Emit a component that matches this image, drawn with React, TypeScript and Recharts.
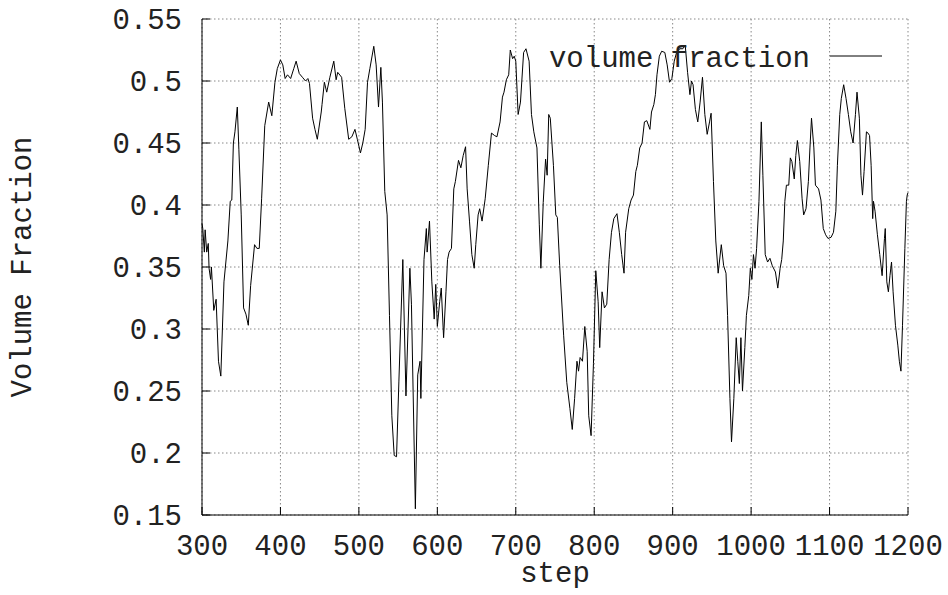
import { CartesianGrid, Legend, Line, LineChart, XAxis, YAxis } from 'recharts';

const steps = [
  300, 301, 303, 304, 306, 308, 309, 311, 312, 315, 318, 321, 324, 328, 333, 336, 338, 340, 342, 345,
  347, 350, 353, 356, 359, 362, 367, 370, 373, 376, 380, 385, 389, 393, 396, 400, 403, 406, 409, 413,
  417, 420, 424, 428, 432, 435, 437, 441, 444, 447, 452, 453, 456, 459, 463, 468, 471, 473, 478, 482,
  487, 491, 495, 498, 502, 505, 508, 511, 514, 519, 522, 525, 528, 530, 533, 536, 539, 542, 545, 548,
  551, 556, 560, 565, 567, 572, 575, 578, 579, 583, 586, 587, 590, 593, 596, 598, 600, 603, 605, 608,
  611, 613, 615, 618, 621, 623, 627, 630, 633, 636, 638, 641, 644, 647, 649, 652, 654, 657, 661, 665,
  669, 673, 676, 680, 683, 685, 688, 691, 693, 696, 698, 700, 703, 706, 710, 713, 717, 720, 723, 727,
  730, 732, 735, 738, 740, 742, 744, 748, 751, 753, 756, 761, 765, 769, 772, 775, 778, 780, 782, 785,
  788, 791, 793, 796, 799, 802, 805, 807, 810, 813, 816, 819, 822, 825, 829, 832, 835, 838, 840, 844,
  847, 850, 853, 855, 858, 861, 864, 867, 871, 873, 876, 878, 880, 883, 886, 890, 893, 896, 899, 902,
  905, 909, 913, 916, 919, 922, 924, 926, 929, 932, 935, 938, 941, 944, 947, 949, 952, 955, 958, 962,
  965, 968, 970, 973, 975, 978, 981, 983, 985, 987, 989, 992, 994, 997, 999, 1001, 1003, 1005, 1007, 1010,
  1013, 1015, 1018, 1021, 1024, 1027, 1031, 1034, 1037, 1039, 1041, 1043, 1045, 1048, 1050, 1052, 1055, 1057, 1059, 1062,
  1065, 1067, 1070, 1073, 1075, 1077, 1080, 1082, 1086, 1089, 1092, 1095, 1098, 1102, 1105, 1108, 1110, 1113, 1115, 1118,
  1121, 1124, 1127, 1130, 1133, 1135, 1138, 1140, 1142, 1144, 1147, 1149, 1151, 1153, 1155, 1156, 1158, 1161, 1164, 1167,
  1170, 1171, 1173, 1175, 1177, 1179, 1181, 1184, 1187, 1189, 1191, 1193, 1196, 1198, 1199, 1200,
];

const volumeFraction = [
  0.385, 0.381, 0.362, 0.38, 0.362, 0.369, 0.349, 0.34, 0.35, 0.315, 0.324, 0.274, 0.262, 0.338, 0.371, 0.403, 0.404, 0.45, 0.459, 0.479,
  0.445, 0.392, 0.317, 0.312, 0.303, 0.335, 0.368, 0.365, 0.365, 0.405, 0.464, 0.483, 0.472, 0.499, 0.51, 0.517, 0.513, 0.502, 0.505, 0.502,
  0.51, 0.516, 0.506, 0.503, 0.5, 0.502, 0.498, 0.47, 0.461, 0.453, 0.475, 0.481, 0.499, 0.491, 0.503, 0.516, 0.501, 0.507, 0.503, 0.478,
  0.453, 0.455, 0.461, 0.453, 0.442, 0.45, 0.461, 0.499, 0.51, 0.528, 0.513, 0.479, 0.511, 0.483, 0.411, 0.392, 0.311, 0.23, 0.198, 0.197,
  0.258, 0.356, 0.246, 0.349, 0.32, 0.155, 0.263, 0.274, 0.244, 0.356, 0.381, 0.362, 0.387, 0.338, 0.308, 0.336, 0.302, 0.322, 0.333, 0.293,
  0.33, 0.356, 0.362, 0.365, 0.413, 0.419, 0.436, 0.43, 0.44, 0.447, 0.413, 0.387, 0.36, 0.349, 0.368, 0.392, 0.397, 0.387, 0.405, 0.432,
  0.458, 0.456, 0.455, 0.467, 0.487, 0.491, 0.501, 0.505, 0.525, 0.518, 0.52, 0.516, 0.473, 0.483, 0.523, 0.526, 0.516, 0.473, 0.459, 0.446,
  0.384, 0.349, 0.402, 0.437, 0.424, 0.473, 0.47, 0.432, 0.392, 0.39, 0.351, 0.295, 0.257, 0.236, 0.219, 0.244, 0.274, 0.266, 0.277, 0.274,
  0.302, 0.282, 0.23, 0.214, 0.272, 0.347, 0.322, 0.285, 0.33, 0.317, 0.32, 0.356, 0.378, 0.389, 0.393, 0.378, 0.36, 0.345, 0.378, 0.397,
  0.404, 0.408, 0.427, 0.432, 0.446, 0.45, 0.467, 0.468, 0.461, 0.475, 0.481, 0.489, 0.505, 0.52, 0.524, 0.523, 0.513, 0.499, 0.502, 0.516,
  0.523, 0.526, 0.526, 0.529, 0.507, 0.489, 0.5, 0.497, 0.477, 0.467, 0.483, 0.503, 0.473, 0.457, 0.467, 0.474, 0.419, 0.371, 0.345, 0.368,
  0.351, 0.345, 0.311, 0.244, 0.209, 0.244, 0.293, 0.274, 0.256, 0.293, 0.25, 0.285, 0.311, 0.327, 0.349, 0.34, 0.36, 0.349, 0.365, 0.403,
  0.467, 0.424, 0.36, 0.354, 0.357, 0.351, 0.346, 0.333, 0.349, 0.356, 0.371, 0.403, 0.416, 0.416, 0.438, 0.435, 0.421, 0.44, 0.452, 0.435,
  0.405, 0.392, 0.397, 0.419, 0.446, 0.47, 0.446, 0.416, 0.413, 0.404, 0.381, 0.376, 0.373, 0.374, 0.378, 0.395, 0.432, 0.473, 0.486, 0.497,
  0.486, 0.473, 0.459, 0.45, 0.473, 0.491, 0.47, 0.424, 0.408, 0.427, 0.459, 0.458, 0.456, 0.432, 0.389, 0.403, 0.395, 0.376, 0.36, 0.343,
  0.373, 0.381, 0.338, 0.33, 0.343, 0.354, 0.33, 0.303, 0.287, 0.274, 0.266, 0.303, 0.365, 0.403, 0.408, 0.41,
];

const xTicks = [300, 400, 500, 600, 700, 800, 900, 1000, 1100, 1200];
const yTicks = [0.15, 0.2, 0.25, 0.3, 0.35, 0.4, 0.45, 0.5, 0.55];
const yTickLabels = ['0.15', '0.2', '0.25', '0.3', '0.35', '0.4', '0.45', '0.5', '0.55'];

const data = steps.map((step, i) => ({ step, vf: volumeFraction[i] }));

const FONT = '"Liberation Mono", "DejaVu Sans Mono", monospace';
const TEXT = '#222';
const tickStyle = { fill: TEXT, fontSize: 29, fontFamily: FONT };

const renderLegend = () => (
  <svg width={360} height={40}>
    <text x={270} y={27} textAnchor="end" fill={TEXT} fontSize={29} fontFamily={FONT}>
      volume fraction
    </text>
    <line x1={290} x2={342} y1={16} y2={16} stroke="#000" strokeWidth={1} />
  </svg>
);

export default function App() {
  return (
    <div style={{ position: 'absolute', left: 0, top: 0, background: '#fff' }}>
      <LineChart width={948} height={595} data={data} margin={{ top: 19, right: 40, bottom: 0, left: 0 }}>
        <CartesianGrid stroke="#888" strokeDasharray="1.5 2.5" />
        <XAxis
          dataKey="step"
          type="number"
          domain={[300, 1200]}
          ticks={xTicks}
          height={80}
          tickSize={-8}
          tickMargin={27}
          tick={tickStyle}
          stroke="#000"
          tickLine={{ stroke: '#000' }}
          label={{ value: 'step', position: 'insideBottom', offset: 13, fill: TEXT, fontSize: 29, fontFamily: FONT }}
        />
        <XAxis
          xAxisId="top"
          orientation="top"
          type="number"
          domain={[300, 1200]}
          ticks={xTicks}
          height={0}
          tickSize={-8}
          tick={false}
          stroke="#000"
          tickLine={{ stroke: '#000' }}
        />
        <YAxis
          type="number"
          domain={[0.15, 0.55]}
          ticks={yTicks}
          width={202}
          tickSize={-8}
          tickMargin={28}
          tick={tickStyle}
          tickFormatter={(v: number) => yTickLabels[yTicks.indexOf(v)] ?? String(v)}
          stroke="#000"
          tickLine={{ stroke: '#000' }}
          label={{
            value: 'Volume Fraction',
            angle: -90,
            position: 'insideLeft',
            dx: 16,
            fill: TEXT,
            fontSize: 29,
            fontFamily: FONT,
            style: { textAnchor: 'middle' },
          }}
        />
        <YAxis
          yAxisId="right"
          orientation="right"
          type="number"
          domain={[0.15, 0.55]}
          ticks={yTicks}
          width={0}
          tickSize={-8}
          tick={false}
          stroke="#000"
          tickLine={{ stroke: '#000' }}
        />
        <Legend
          layout="horizontal"
          verticalAlign="middle"
          align="center"
          content={renderLegend}
          wrapperStyle={{ position: 'absolute', left: 540, top: 40, width: 360, height: 40 }}
        />
        <Line
          type="linear"
          dataKey="vf"
          stroke="#000"
          strokeWidth={1}
          dot={false}
          isAnimationActive={false}
        />
      </LineChart>
    </div>
  );
}
